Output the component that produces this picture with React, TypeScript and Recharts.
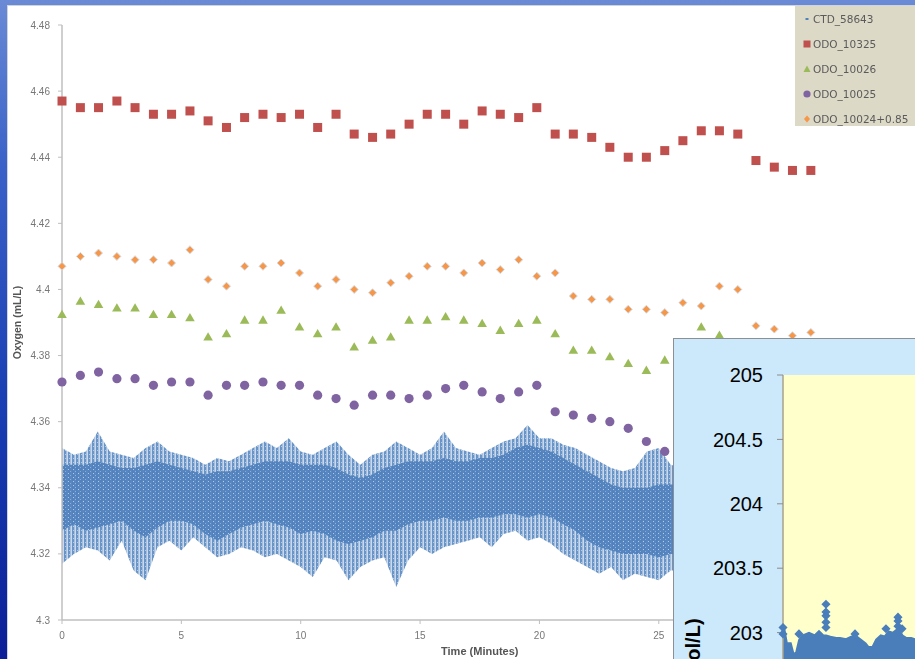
import { Area, CartesianGrid, ComposedChart, Legend, Scatter, XAxis, YAxis } from "recharts";

// Discrete optode readings, one every ~46 s (minutes)
const sampleMinutes = [
  0, 0.77, 1.53, 2.3, 3.06, 3.83, 4.59, 5.36, 6.12, 6.89, 7.65, 8.42, 9.18, 9.95,
  10.71, 11.48, 12.24, 13.01, 13.77, 14.54, 15.3, 16.07, 16.83, 17.6, 18.36, 19.13,
  19.89, 20.66, 21.42, 22.19, 22.95, 23.72, 24.48, 25.25, 26.01, 26.78, 27.54, 28.31,
  29.07, 29.84, 30.6, 31.37,
];
const odo10325 = [
  4.457, 4.455, 4.455, 4.457, 4.455, 4.453, 4.453, 4.454, 4.451, 4.449, 4.452, 4.453,
  4.452, 4.453, 4.449, 4.453, 4.447, 4.446, 4.447, 4.45, 4.453, 4.453, 4.45, 4.454,
  4.453, 4.452, 4.455, 4.447, 4.447, 4.446, 4.443, 4.44, 4.44, 4.442, 4.445, 4.448,
  4.448, 4.447, 4.439, 4.437, 4.436, 4.436,
];
const odo10026 = [
  4.3925, 4.3965, 4.3955, 4.3945, 4.3945, 4.3925, 4.3925, 4.3915, 4.3857, 4.3867,
  4.3908, 4.3908, 4.3938, 4.3887, 4.3867, 4.3887, 4.3827, 4.3847, 4.3857, 4.3908,
  4.3908, 4.3918, 4.3908, 4.3898, 4.3877, 4.3898, 4.3908, 4.3867, 4.3817, 4.3817,
  4.3797, 4.3777, 4.3756, 4.3787, 4.382, 4.3887, 4.3862, 4.383, 4.38, 4.379, 4.378,
  4.378,
];
const odo10025 = [
  4.372, 4.374, 4.375, 4.373, 4.373, 4.371, 4.372, 4.372, 4.368, 4.371, 4.371, 4.372,
  4.371, 4.371, 4.368, 4.367, 4.365, 4.368, 4.368, 4.367, 4.368, 4.37, 4.371, 4.369,
  4.367, 4.369, 4.371, 4.363, 4.362, 4.361, 4.36, 4.358, 4.354, 4.351, 4.35, 4.349,
  4.348, 4.347, 4.346, 4.345, 4.345, 4.344,
];
// 10024 already shifted by +0.85
const odo10024 = [
  4.407, 4.41, 4.411, 4.41, 4.409, 4.409, 4.408, 4.412, 4.403, 4.401, 4.407, 4.407,
  4.408, 4.405, 4.401, 4.403, 4.4, 4.399, 4.402, 4.404, 4.407, 4.407, 4.405, 4.408,
  4.406, 4.409, 4.404, 4.405, 4.398, 4.397, 4.397, 4.394, 4.394, 4.393, 4.396, 4.395,
  4.401, 4.4, 4.389, 4.388, 4.386, 4.387,
];

// CTD trace, summarised per half minute: sparse spike extent and the dense core
const ctdMinutes = [
  0, 0.5, 1, 1.5, 2, 2.5, 3, 3.5, 4, 4.5, 5, 5.5, 6, 6.5, 7, 7.5, 8, 8.5, 9, 9.5, 10,
  10.5, 11, 11.5, 12, 12.5, 13, 13.5, 14, 14.5, 15, 15.5, 16, 16.5, 17, 17.5, 18, 18.5,
  19, 19.5, 20, 20.5, 21, 21.5, 22, 22.5, 23, 23.5, 24, 24.5, 25, 25.5, 26,
];
const ctdOuterHi = [
  4.352, 4.35, 4.351, 4.357, 4.351, 4.35, 4.349, 4.352, 4.354, 4.351,
  4.35, 4.349, 4.347, 4.349, 4.348, 4.35, 4.352, 4.354, 4.352, 4.355,
  4.351, 4.35, 4.352, 4.354, 4.35, 4.347, 4.35, 4.351, 4.354, 4.352,
  4.35, 4.352, 4.357, 4.352, 4.351, 4.35, 4.352, 4.354, 4.355, 4.359,
  4.355, 4.355, 4.353, 4.352, 4.35, 4.348, 4.346, 4.345, 4.346, 4.351,
  4.352, 4.347, 4.346,
];
const ctdCoreHi = [
  4.347, 4.347, 4.347, 4.348, 4.347, 4.346, 4.346, 4.347, 4.348, 4.347,
  4.346, 4.345, 4.344, 4.345, 4.345, 4.346, 4.347, 4.348, 4.348, 4.348,
  4.347, 4.347, 4.347, 4.346, 4.344, 4.343, 4.344, 4.346, 4.347, 4.348,
  4.348, 4.348, 4.349, 4.348, 4.348, 4.349, 4.349, 4.35, 4.352, 4.353,
  4.352, 4.351, 4.349, 4.347, 4.345, 4.343, 4.341, 4.34, 4.34, 4.34,
  4.341, 4.341, 4.341,
];
const ctdCoreLo = [
  4.327, 4.329, 4.327, 4.328, 4.329, 4.33, 4.327, 4.325, 4.328, 4.33,
  4.33, 4.329, 4.326, 4.324, 4.326, 4.328, 4.329, 4.33, 4.329, 4.328,
  4.326, 4.327, 4.326, 4.324, 4.323, 4.324, 4.325, 4.327, 4.327, 4.329,
  4.33, 4.33, 4.331, 4.33, 4.33, 4.331, 4.331, 4.332, 4.332, 4.331,
  4.332, 4.331, 4.329, 4.327, 4.324, 4.322, 4.321, 4.32, 4.32, 4.32,
  4.319, 4.32, 4.32,
];
const ctdOuterLo = [
  4.317, 4.32, 4.322, 4.321, 4.318, 4.324, 4.315, 4.312, 4.322, 4.324,
  4.321, 4.325, 4.322, 4.319, 4.32, 4.322, 4.321, 4.319, 4.32, 4.318,
  4.316, 4.313, 4.319, 4.318, 4.312, 4.316, 4.318, 4.319, 4.31, 4.318,
  4.322, 4.32, 4.322, 4.323, 4.324, 4.325, 4.322, 4.326, 4.327, 4.324,
  4.325, 4.323, 4.32, 4.318, 4.316, 4.314, 4.316, 4.312, 4.314, 4.313,
  4.312, 4.315, 4.315,
];

const xTicks = [0, 5, 10, 15, 20, 25, 30, 35];
const yTicks = [4.3, 4.32, 4.34, 4.36, 4.38, 4.4, 4.42, 4.44, 4.46, 4.48];

// Second panel: CTD oxygen in µmol/L
const insetMinutes = [
  0, 0.25, 0.58, 0.83, 1.17, 1.42, 1.67, 2.17, 2.67, 3, 3.33, 3.58, 3.92, 4.42, 4.75,
  5.25, 5.67, 6, 6.42, 6.83, 7.08, 7.5, 7.83, 8.17, 8.5, 8.83, 9.17, 9.58, 9.92, 10.25,
  10.67, 11,
];
const insetTop = [
  203.04, 202.91, 202.91, 202.82, 202.84, 202.94, 202.97, 202.99, 202.97, 203.0,
  202.97, 202.97, 202.96, 202.95, 202.95, 202.94, 202.96, 202.97, 202.94, 202.91,
  202.88, 202.88, 202.94, 202.97, 202.96, 203.0, 202.99, 203.02, 202.97, 202.95,
  202.95, 202.94,
];
const insetSpikeMinutes = [3.58, 3.58, 3.58, 3.58, 3.58, 1.33, 6, 8.58, 9.58, 9.58, 9.58, 9.92, 0, 0];
const insetSpikeValues = [
  203.22, 203.16, 203.13, 203.08, 203.04, 202.99, 202.99, 203.03, 203.12, 203.09,
  203.05, 203.03, 203.04, 202.99,
];
const insetTicks = [200, 200.5, 201, 201.5, 202, 202.5, 203, 203.5, 204, 204.5, 205];

const BLUE = "#4f81bd";
const RED = "#c0504d";
const GREEN = "#9bbb59";
const PURPLE = "#8064a2";
const ORANGE = "#f79646";
const INSET_BLUE = "#4a7ebb";
const FONT = "'Liberation Sans', Arial, sans-serif";

const rows = (ys: number[]) => sampleMinutes.map((t, i) => ({ t, v: ys[i] }));
const ctdRows = ctdMinutes.map((t, i) => ({
  t,
  outer: [ctdOuterLo[i], ctdOuterHi[i]],
  core: [ctdCoreLo[i], ctdCoreHi[i]],
}));
const insetRows = insetMinutes.map((t, i) => ({ t, top: insetTop[i] }));
const spikeRows = insetSpikeMinutes.map((t, i) => ({ t, v: insetSpikeValues[i] }));

const legendItems = [
  { name: "CTD_58643", color: BLUE, mark: "dot" },
  { name: "ODO_10325", color: RED, mark: "square" },
  { name: "ODO_10026", color: GREEN, mark: "triangle" },
  { name: "ODO_10025", color: PURPLE, mark: "circle" },
  { name: "ODO_10024+0.85", color: ORANGE, mark: "diamond" },
];

const SquareDot = (p: any) => (
  <rect x={p.cx - 4.5} y={p.cy - 4.5} width={9} height={9} fill={RED} />
);
const TriangleDot = (p: any) => (
  <path d={`M${p.cx},${p.cy - 4.5}L${p.cx + 4.8},${p.cy + 3.8}L${p.cx - 4.8},${p.cy + 3.8}Z`} fill={GREEN} />
);
const CircleDot = (p: any) => <circle cx={p.cx} cy={p.cy} r={4.6} fill={PURPLE} />;
const DiamondDot = (p: any) => (
  <path
    d={`M${p.cx},${p.cy - 4}L${p.cx + 4},${p.cy}L${p.cx},${p.cy + 4}L${p.cx - 4},${p.cy}Z`}
    fill={ORANGE}
    stroke="#d4dce6"
    strokeWidth={1}
  />
);
const InsetDot = (p: any) => (
  <path
    d={`M${p.cx},${p.cy - 3.5}L${p.cx + 3.5},${p.cy}L${p.cx},${p.cy + 3.5}L${p.cx - 3.5},${p.cy}Z`}
    fill={INSET_BLUE}
    stroke={INSET_BLUE}
    strokeWidth={1.5}
  />
);

function LegendMark({ mark, color }: { mark: string; color: string }) {
  return (
    <svg width={18} height={10} style={{ flexShrink: 0 }}>
      {mark === "dot" && <rect x={10.5} y={4} width={3} height={2} fill={color} />}
      {mark === "square" && <rect x={8.5} y={1.5} width={7} height={7} fill={color} />}
      {mark === "triangle" && <path d="M12,1.5L15.5,8L8.5,8Z" fill={color} />}
      {mark === "circle" && <circle cx={12} cy={5} r={3.6} fill={color} />}
      {mark === "diamond" && <path d="M12,1.5L15,5L12,8.5L9,5Z" fill={color} />}
    </svg>
  );
}

function LegendBox() {
  return (
    <div
      style={{
        width: 125,
        height: 120,
        background: "#dcd9c7",
        fontFamily: "'DejaVu Sans', sans-serif",
        fontSize: 10.5,
        color: "#5a5a5a",
      }}
    >
      {legendItems.map((it) => (
        <div key={it.name} style={{ height: 25, display: "flex", alignItems: "center", whiteSpace: "nowrap" }}>
          <LegendMark mark={it.mark} color={it.color} />
          <span>{it.name}</span>
        </div>
      ))}
    </div>
  );
}

export default function App() {
  return (
    <div
      style={{
        position: "fixed",
        left: 0,
        top: 0,
        width: 915,
        height: 659,
        overflow: "hidden",
        background: "linear-gradient(180deg, #6a8ad6 0%, #3a62c8 25%, #1a3fb4 60%, #0b1f98 100%)",
      }}
    >
      <div style={{ position: "absolute", left: 0, top: 0, width: 915, height: 659, filter: "blur(0.6px)" }}>
        <div
          style={{
            position: "absolute",
            left: 7,
            top: 5,
            width: 940,
            height: 680,
            background: "#fff",
            border: "1px solid #cfd3da",
          }}
        />
        <div style={{ position: "absolute", left: 0, top: 0 }}>
          <ComposedChart width={915} height={659} data={ctdRows} margin={{ top: 25, right: 17.5, bottom: 0, left: 0 }}>
            <defs>
              {/* speckled fill for the dense part of the CTD cloud */}
              <pattern id="ctdCore" width={5} height={4} patternUnits="userSpaceOnUse">
                <rect width={5} height={4} fill={BLUE} />
                <rect x={3} y={1} width={1} height={1} fill="#fff" fillOpacity={0.6} />
                <rect x={0} y={3} width={1} height={1} fill="#fff" fillOpacity={0.35} />
              </pattern>
              {/* vertical streaks for the sparse spikes around it */}
              <pattern id="ctdStreaks" width={4} height={4} patternUnits="userSpaceOnUse">
                <rect x={0} y={0} width={2.5} height={4} fill={BLUE} fillOpacity={0.85} />
                <rect x={2.5} y={0} width={1.5} height={4} fill={BLUE} fillOpacity={0.3} />
                <rect x={1} y={2} width={1} height={1} fill="#fff" fillOpacity={0.5} />
              </pattern>
            </defs>
            <XAxis
              dataKey="t"
              type="number"
              domain={[0, 35]}
              ticks={xTicks}
              height={39}
              axisLine={{ stroke: "#bfbfbf", strokeWidth: 1.5 }}
              tickLine={{ stroke: "#bfbfbf" }}
              tickSize={4}
              tickMargin={8}
              tick={{ fontSize: 10, fill: "#777", fontFamily: FONT }}
              label={{
                value: "Time (Minutes)",
                position: "insideBottom",
                offset: 4,
                style: { fontSize: 11, fontWeight: "bold", fill: "#555", fontFamily: FONT },
              }}
            />
            <YAxis
              dataKey="v"
              type="number"
              domain={[4.3, 4.48]}
              ticks={yTicks}
              width={62}
              axisLine={{ stroke: "#bfbfbf", strokeWidth: 1.5 }}
              tickLine={{ stroke: "#bfbfbf" }}
              tickSize={4}
              tickMargin={8}
              tick={{ fontSize: 10, fill: "#777", fontFamily: FONT }}
              tickFormatter={(v: number) => String(Number(v.toFixed(2)))}
              label={{
                value: "Oxygen (mL/L)",
                angle: -90,
                position: "insideLeft",
                offset: 17,
                style: { textAnchor: "middle", fontSize: 10.5, fontWeight: "bold", fill: "#555", fontFamily: FONT },
              }}
            />
            <Area dataKey="outer" type="linear" stroke="none" fill="url(#ctdStreaks)" fillOpacity={1} isAnimationActive={false} />
            <Area dataKey="core" type="linear" stroke="none" fill="url(#ctdCore)" fillOpacity={0.92} isAnimationActive={false} />
            <Scatter name="ODO_10325" data={rows(odo10325)} fill={RED} shape={SquareDot} isAnimationActive={false} />
            <Scatter name="ODO_10024+0.85" data={rows(odo10024)} fill={ORANGE} shape={DiamondDot} isAnimationActive={false} />
            <Scatter name="ODO_10026" data={rows(odo10026)} fill={GREEN} shape={TriangleDot} isAnimationActive={false} />
            <Scatter name="ODO_10025" data={rows(odo10025)} fill={PURPLE} shape={CircleDot} isAnimationActive={false} />
            <Legend
              layout="vertical"
              align="center"
              verticalAlign="middle"
              content={() => <LegendBox />}
              wrapperStyle={{ left: 795, top: 6, width: 125, height: 120 }}
            />
          </ComposedChart>
        </div>
      </div>

      <div
        style={{
          position: "absolute",
          left: 673,
          top: 338,
          width: 260,
          height: 340,
          background: "#cce9fb",
          border: "1px solid #8c9096",
        }}
      />
      <div style={{ position: "absolute", left: 673, top: 338 }}>
        <ComposedChart width={242} height={681} data={insetRows} margin={{ top: 37, right: 0, bottom: 0, left: 0 }}>
          <CartesianGrid fill="#ffffcc" horizontal={false} vertical={false} />
          <XAxis dataKey="t" type="number" domain={[0, 11]} hide />
          <YAxis
            dataKey="v"
            type="number"
            domain={[200, 205]}
            ticks={insetTicks}
            width={110}
            axisLine={{ stroke: "#a8a28a", strokeWidth: 1.5 }}
            tickLine={{ stroke: "#8c8c8c" }}
            tickSize={6}
            tickMargin={14}
            tick={{ fontSize: 20, fill: "#000", fontFamily: FONT }}
            label={{
              value: "Oxygen (µmol/L)",
              angle: -90,
              position: "insideLeft",
              offset: 20,
              style: { textAnchor: "middle", fontSize: 20, fontWeight: "bold", fill: "#000", fontFamily: FONT },
            }}
          />
          <Area
            dataKey="top"
            type="linear"
            baseValue={200}
            stroke={INSET_BLUE}
            strokeWidth={4}
            fill={INSET_BLUE}
            fillOpacity={1}
            isAnimationActive={false}
          />
          <Scatter data={spikeRows} fill={INSET_BLUE} shape={InsetDot} isAnimationActive={false} />
        </ComposedChart>
      </div>
    </div>
  );
}
